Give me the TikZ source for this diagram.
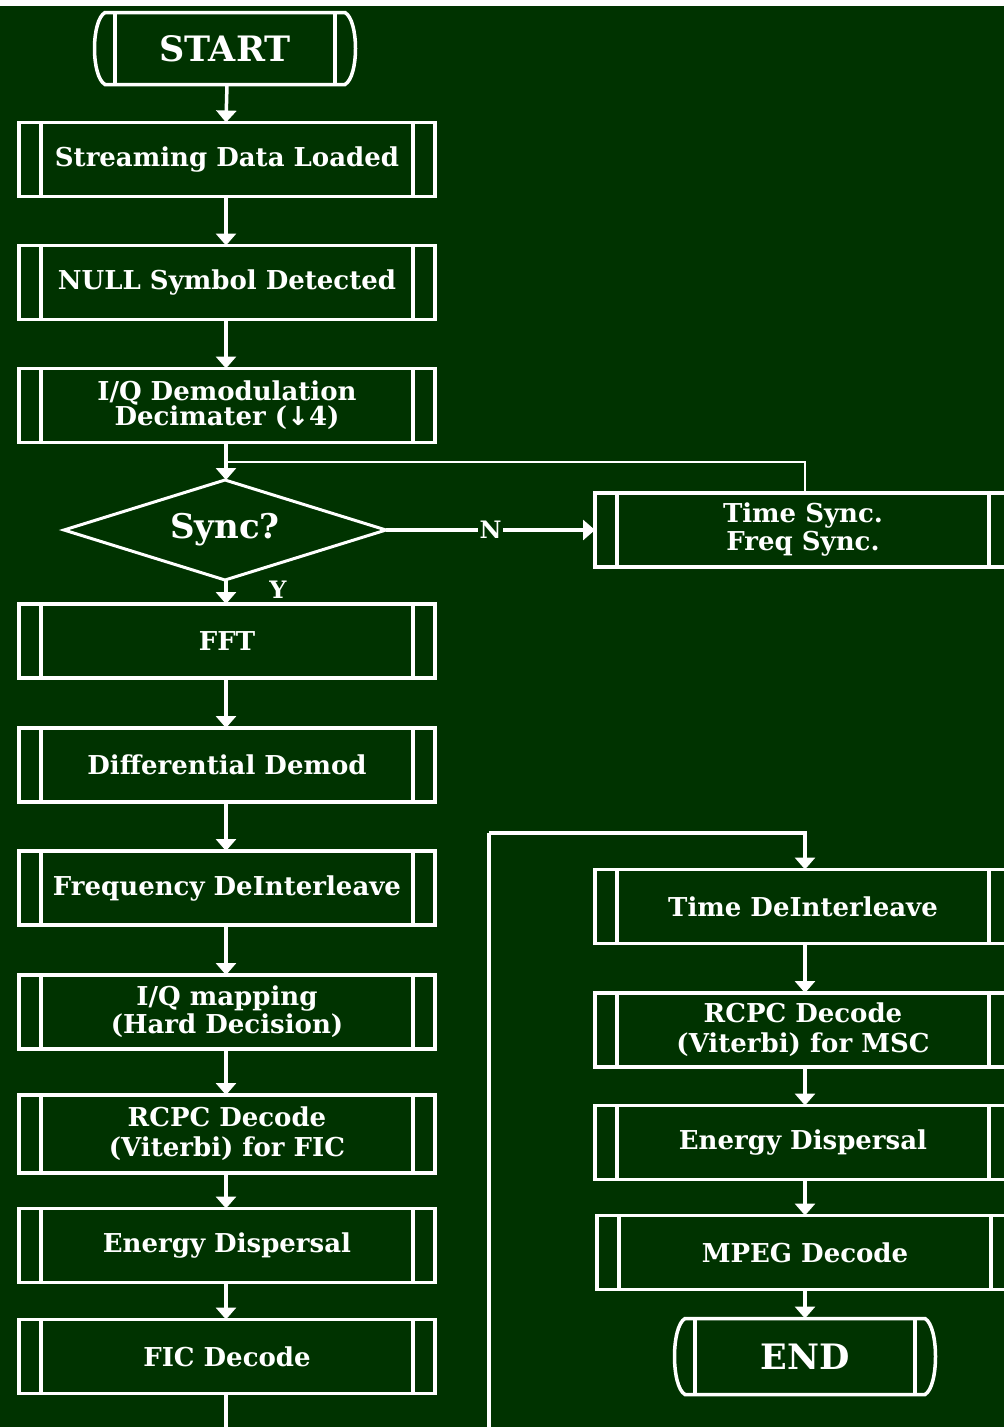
\documentclass[tikz,border=0pt]{standalone}
\usepackage{fontspec}
\setmainfont{DejaVu Serif}
\newfontfamily\arrowfont{DejaVu Sans}
\usetikzlibrary{arrows.meta,calc,shapes.geometric}
\definecolor{board}{RGB}{0,51,0}
\begin{document}
\begin{tikzpicture}[x=1pt,y=-1pt,
  line/.style={draw=white, line width=3.5pt},
  flow/.style={line, -{Triangle[width=20pt,length=12pt]}},
  thinline/.style={draw=white, line width=2pt},
  proc/.style={rectangle, draw=white, line width=3.5pt, minimum width=416pt,
    minimum height=74pt, inner sep=0pt, outer sep=0pt, align=center,
    text=white, font=\bfseries\fontsize{26}{28}\selectfont},
  term/.style={rectangle, minimum width=240pt, minimum height=72pt,
    inner sep=0pt, outer sep=0pt, text=white,
    font=\bfseries\fontsize{35}{38}\selectfont},
  decision/.style={diamond, draw=white, line width=3pt, minimum width=322pt,
    minimum height=100pt, aspect=3.2, inner sep=0pt, outer sep=0pt,
    text=white, font=\bfseries\fontsize{34}{36}\selectfont},
  tag/.style={text=white, inner sep=2pt, font=\bfseries\fontsize{24}{26}\selectfont},
]
% canvas
\clip (0,0) rectangle (1004,1427);
\fill[board] (0,0) rectangle (1004,1427);
\fill[white] (0,0) rectangle (1004,6);
\useasboundingbox (0,0) rectangle (1004,1427);

% left column
\node[term] (startT) at (225,48.5) {START};
\node[proc] (sdl)   at (227,159.5) {Streaming Data Loaded};
\node[proc] (nsd)   at (227,282.5) {NULL Symbol Detected};
\node[proc, font=\bfseries\fontsize{26}{25}\selectfont] (iqd) at (227,405.5) {I/Q Demodulation\\Decimater ({\arrowfont ↓}4)};
\node[decision] (sync) at (225,530) {Sync?};
\node[proc] (fft)   at (227,641) {FFT};
\node[proc] (ddm)   at (227,765) {Differential Demod};
\node[proc] (fdi)   at (227,888) {Frequency DeInterleave};
\node[proc] (iqm)   at (227,1012) {I/Q mapping\\(Hard Decision)};
\node[proc, minimum height=78pt, font=\bfseries\fontsize{26}{30}\selectfont] (rcf) at (227,1134) {RCPC Decode\\(Viterbi) for FIC};
\node[proc] (edf)   at (227,1245.5) {Energy Dispersal};
\node[proc] (fic)   at (227,1356.5) {FIC Decode};

% right column
\node[proc] (tsy)   at (803,530) {Time Sync.\\Freq Sync.};
\node[proc] (tdi)   at (803,906.5) {Time DeInterleave};
\node[proc, font=\bfseries\fontsize{26}{30}\selectfont] (rcm) at (803,1030) {RCPC Decode\\(Viterbi) for MSC};
\node[proc] (edm)   at (803,1142.5) {Energy Dispersal};
\node[proc] (mpg)   at (805,1252.5) {MPEG Decode};
\node[term, minimum height=76pt] (endT) at (805,1356.5) {END};

% side bars of the process boxes
\foreach \n in {sdl,nsd,iqd,fft,ddm,fdi,iqm,rcf,edf,fic,tsy,tdi,rcm,edm,mpg} {
  \draw[line] ([xshift=22pt]\n.north west) -- ([xshift=22pt]\n.south west);
  \draw[line] ([xshift=-22pt]\n.north east) -- ([xshift=-22pt]\n.south east);
}

% rounded terminal outlines
\foreach \n in {startT,endT} {
  \draw[line] (\n.north west) -- (\n.north east)
    .. controls ($(\n.north east)+(14,8)$) and ($(\n.south east)+(14,-8)$) .. (\n.south east)
    -- (\n.south west)
    .. controls ($(\n.south west)+(-14,-8)$) and ($(\n.north west)+(-14,8)$) .. cycle;
  \draw[line] ([xshift=10pt]\n.north west) -- ([xshift=10pt]\n.south west);
  \draw[line] ([xshift=-10pt]\n.north east) -- ([xshift=-10pt]\n.south east);
}

% main flow
\draw[flow] (startT.south -| sdl.north) -- (sdl.north -| 226,0);
\draw[flow] (sdl.south -| 226,0) -- (nsd.north -| 226,0);
\draw[flow] (nsd.south -| 226,0) -- (iqd.north -| 226,0);
\draw[flow] (iqd.south -| 226,0) -- (sync.north -| 226,0);
\draw[flow] (sync.south -| 226,0) -- (fft.north -| 226,0);
\draw[flow] (fft.south -| 226,0) -- (ddm.north -| 226,0);
\draw[flow] (ddm.south -| 226,0) -- (fdi.north -| 226,0);
\draw[flow] (fdi.south -| 226,0) -- (iqm.north -| 226,0);
\draw[flow] (iqm.south -| 226,0) -- (rcf.north -| 226,0);
\draw[flow] (rcf.south -| 226,0) -- (edf.north -| 226,0);
\draw[flow] (edf.south -| 226,0) -- (fic.north -| 226,0);
\node[tag] (ylab) at (278,590) {Y};

% resync loop
\coordinate (br) at (226,462);
\draw[thinline] (br) -| (tsy.north -| 805,0);
\draw[flow] (sync.east) -- node[tag, fill=board, pos=0.5] (nlab) {N} (tsy.west);

% hand-over to the main service channel
\coordinate (loopA) at (226,1445);
\coordinate (loopB) at (489,1445);
\coordinate (loopC) at (489,833);
\draw[line] (fic.south -| 226,0) -- (loopA) -- (loopB) -- (loopC);
\draw[flow] (loopC) -| (tdi.north -| 805,0);

% right column flow
\draw[flow] (tdi.south -| 805,0) -- (rcm.north -| 805,0);
\draw[flow] (rcm.south -| 805,0) -- (edm.north -| 805,0);
\draw[flow] (edm.south -| 805,0) -- (mpg.north -| 805,0);
\draw[flow] (mpg.south -| 805,0) -- (endT.north -| 805,0);
\end{tikzpicture}
\end{document}
